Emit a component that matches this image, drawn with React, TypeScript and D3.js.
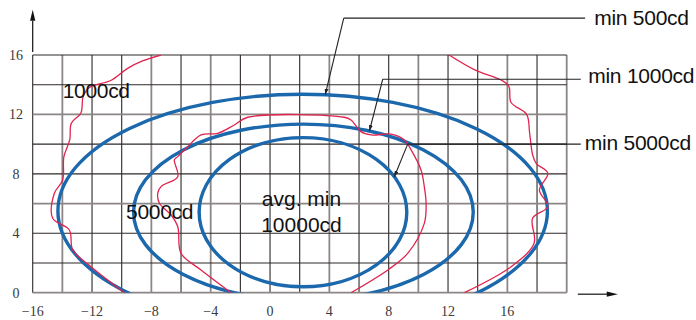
import React from "react";
import * as d3 from "d3";

const W = 696;
const H = 320;

// grid extent and tick labels
const xDomain = [-16, 20];
const yDomain = [0, 16];
const xTickLabels = [-16, -12, -8, -4, 0, 4, 8, 12, 16];
const yTickLabels = [0, 4, 8, 12, 16];

// blue rings: min 500cd, min 1000cd, min 5000cd (centre, half axes)
const ringLabels = ["min 500cd", "min 1000cd", "min 5000cd"];
const ringCx = [2.2, 2.25, 2.22];
const ringCy = [5.5, 5.42, 5.42];
const ringRx = [16.5, 11.45, 7.0];
const ringRy = [7.86, 5.93, 5.02];

// red measured isolines
const iso1000Left = [
  [-7.35, 16], [-8.6, 15.6], [-9.6, 15.1], [-10.7, 14.3], [-12.2, 13.8], [-12.6, 13.2],
  [-12.75, 12.1], [-13.4, 11.4], [-13.5, 10.3], [-13.9, 9.15], [-13.98, 7.59],
  [-14.54, 6.69], [-14.65, 5.01], [-13.53, 4.22], [-13.3, 2.87], [-12.07, 1.75], [-9.82, 0],
];
const iso1000Right = [
  [12.07, 16], [13.8, 15.0], [15.6, 14.3], [16.1, 13.9], [16.25, 12.8], [17.3, 12.0],
  [17.5, 10.75], [17.7, 9.3], [17.94, 8.71], [18.73, 8.04], [18.16, 6.92], [18.73, 5.79],
  [17.7, 5.01], [17.8, 3.33], [16.25, 1.75], [13.1, 0],
];
const iso5000 = [
  [-2.63, 0], [-4.65, 1.53], [-6.0, 2.65], [-6.22, 4.44], [-6.67, 5.23], [-7.46, 6.02],
  [-7.57, 6.69], [-7.35, 7.14], [-6.22, 7.81], [-6.45, 8.94], [-6.22, 9.16], [-5.55, 9.83],
  [-4.65, 10.62], [-3.53, 10.73], [-2.41, 11.29], [-1.5, 11.81], [5.0, 11.81], [5.46, 11.63],
  [6.13, 10.84], [6.81, 10.62], [8.16, 10.67], [9.06, 10.28], [9.51, 9.61], [10.18, 8.26],
  [10.4, 7.14], [10.52, 6.02], [10.4, 4.67], [9.28, 2.65], [7.94, 1.53], [5.46, 0],
];

// leader lines to the right-hand labels (data units)
const leaderTipX = [3.72, 6.7, 8.38];
const leaderKnee = [[4.97, 18.48], [7.6, 14.37], [9.28, 10.0]];
const leaderEndX = [21.24, 20.95, 20.95];
const leaderTextPos = [[21.85, 18.02], [21.45, 14.1], [21.22, 9.6]];

const grayX = new Set([-14, -8, -4, 4, 10, 16, 20]);
const grayY = new Set([0, 6, 12]);

const BLUE = "#1c68ad";
const RED = "#e0234f";
const SANS = "'Liberation Sans', Arial, sans-serif";
const SERIF = "'Liberation Serif', 'Times New Roman', serif";

export default function App() {
  const x = d3.scaleLinear().domain(xDomain).range([32.7, 566.7]);
  const y = d3.scaleLinear().domain(yDomain).range([292.7, 55]);
  const line = d3
    .line<number[]>()
    .x((d) => x(d[0]))
    .y((d) => y(d[1]))
    .curve(d3.curveCatmullRom.alpha(0.5));
  const fmt = d3.format("d");
  const gridX = d3.range(xDomain[0], xDomain[1] + 0.1, 2);
  const gridY = d3.range(yDomain[0], yDomain[1] + 0.1, 2);

  const ringTop = (i: number, xv: number) => {
    const u = (xv - ringCx[i]) / ringRx[i];
    return ringCy[i] + ringRy[i] * Math.sqrt(Math.max(0, 1 - u * u));
  };

  return (
    <svg width={W} height={H} style={{ position: "absolute", left: 0, top: 0, background: "#fff" }}>
      <defs>
        <clipPath id="plot">
          <rect x={x(xDomain[0])} y={y(yDomain[1])} width={x(xDomain[1]) - x(xDomain[0])} height={y(yDomain[0]) - y(yDomain[1])} />
        </clipPath>
        <marker id="tip" markerWidth={6} markerHeight={4} refX={6} refY={2} orient="auto" markerUnits="userSpaceOnUse">
          <path d="M0,0 L6,2 L0,4 Z" fill="#222" />
        </marker>
      </defs>

      {/* grid */}
      {gridX.map((v) => (
        <line key={"gx" + v} x1={x(v)} x2={x(v)} y1={y(yDomain[0])} y2={y(yDomain[1])}
          stroke={grayX.has(v) ? "#8c8686" : "#2e2828"} strokeWidth={grayX.has(v) ? 1.8 : 1.1} />
      ))}
      {gridY.map((v) => (
        <line key={"gy" + v} y1={y(v)} y2={y(v)} x1={x(xDomain[0])} x2={x(xDomain[1])}
          stroke={grayY.has(v) ? "#8c8686" : "#2e2828"} strokeWidth={grayY.has(v) ? 1.8 : 1.1} />
      ))}

      {/* axis arrows */}
      <line x1={x(-16)} x2={x(-16)} y1={y(16.2)} y2={y(18.3)} stroke="#111" strokeWidth={1.2} />
      <path d={`M${x(-16)},${y(19.05)} L${x(-16) - 2.6},${y(18.3)} L${x(-16) + 2.6},${y(18.3)} Z`} fill="#111" />
      <line x1={x(20.75)} x2={x(22.8)} y1={y(-0.1)} y2={y(-0.1)} stroke="#111" strokeWidth={1.2} />
      <path d={`M${x(23.45)},${y(-0.1)} L${x(22.7)},${y(-0.1) - 2.6} L${x(22.7)},${y(-0.1) + 2.6} Z`} fill="#111" />

      {/* tick labels */}
      {xTickLabels.map((v) => (
        <text key={"tx" + v} x={x(v)} y={y(0) + 23} textAnchor="middle" fontFamily={SERIF} fontSize={14} fill="#3a3a3a">
          {fmt(v)}
        </text>
      ))}
      {yTickLabels.map((v) => (
        <text key={"ty" + v} x={16} y={y(v) + 5} textAnchor="middle" fontFamily={SERIF} fontSize={14} fill="#3a3a3a">
          {fmt(v)}
        </text>
      ))}

      <g clipPath="url(#plot)">
        {ringCx.map((cx, i) => (
          <ellipse key={"r" + i} cx={x(cx)} cy={y(ringCy[i])} rx={x(cx + ringRx[i]) - x(cx)} ry={y(0) - y(ringRy[i])}
            fill="none" stroke={BLUE} strokeWidth={3.4} />
        ))}
        {[iso1000Left, iso1000Right, iso5000].map((pts, i) => (
          <path key={"iso" + i} d={line(pts) ?? ""} fill="none" stroke={RED} strokeWidth={1.3} />
        ))}
      </g>

      {/* leaders */}
      {ringLabels.map((lab, i) => {
        const tx = leaderTipX[i];
        const ty = ringTop(i, tx);
        const [kx, ky] = leaderKnee[i];
        return (
          <g key={"lead" + i}>
            <line x1={x(kx)} y1={y(ky)} x2={x(tx)} y2={y(ty)} stroke="#222" strokeWidth={1.1} markerEnd="url(#tip)" />
            <line x1={x(kx)} y1={y(ky)} x2={x(leaderEndX[i])} y2={y(ky)} stroke="#222" strokeWidth={1.1} />
            <text x={x(leaderTextPos[i][0])} y={y(leaderTextPos[i][1])} fontFamily={SANS} fontSize={21} letterSpacing={-0.25} fill="#111">
              {lab}
            </text>
          </g>
        );
      })}

      {/* labels inside */}
      <text x={x(-13.98)} y={y(13.11)} fontFamily={SANS} fontSize={21} letterSpacing={-0.3} fill="#111">1000cd</text>
      <text x={x(-9.71)} y={y(4.96)} fontFamily={SANS} fontSize={21} letterSpacing={-0.3} fill="#111">5000cd</text>
      <text x={x(2.12)} y={y(5.86)} textAnchor="middle" fontFamily={SANS} fontSize={21} fill="#111">avg. min</text>
      <text x={x(2.12)} y={y(4.1)} textAnchor="middle" fontFamily={SANS} fontSize={21} fill="#111">10000cd</text>
    </svg>
  );
}
